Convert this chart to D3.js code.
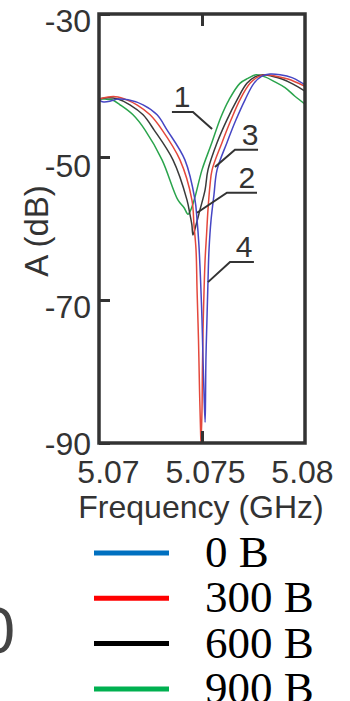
<!DOCTYPE html>
<html>
<head>
<meta charset="utf-8">
<script src="https://cdn.jsdelivr.net/npm/d3@7"></script>
<style>
  body { margin: 0; background: #fff; }
  svg { display: block; }
</style>
</head>
<body>
<svg id="chart"></svg>
<script>
// curves: [frequency GHz, A dB]
const curve0 = [ // 0 B
  [5.07000,-41.9],[5.07010,-42.2],[5.07024,-42.3],[5.07053,-42.2],[5.07092,-41.9],[5.07141,-42.0],
  [5.07214,-42.7],[5.07282,-44.1],[5.07330,-46.2],[5.07417,-50.4],[5.07466,-56.0],[5.07476,-58.8],
  [5.07485,-62.3],[5.07493,-67.2],[5.07500,-72.8],[5.07505,-78.4],[5.07510,-83.3],[5.07515,-87.1],
  [5.07517,-84.0],[5.07519,-78.4],[5.07524,-72.8],[5.07529,-67.5],[5.07534,-63.0],[5.07544,-58.8],
  [5.07558,-55.3],[5.07573,-51.8],[5.07621,-48.0],[5.07665,-44.8],[5.07709,-42.0],[5.07752,-39.7],
  [5.07791,-38.7],[5.07830,-38.4],[5.07879,-38.5],[5.07937,-38.9],[5.08000,-39.9]
];
const curve300 = [
  [5.07000,-41.9],[5.07044,-41.6],[5.07092,-41.6],[5.07126,-41.9],[5.07184,-42.7],[5.07248,-44.1],
  [5.07306,-46.2],[5.07393,-50.4],[5.07451,-56.0],[5.07461,-59.5],[5.07471,-63.0],[5.07476,-68.6],
  [5.07483,-75.6],[5.07488,-82.6],[5.07493,-88.2],[5.07495,-90.0],
  [5.07500,-85.4],[5.07502,-79.8],[5.07505,-74.2],[5.07510,-68.6],[5.07515,-64.4],[5.07522,-60.9],
  [5.07529,-57.4],[5.07539,-53.9],[5.07549,-51.8],[5.07597,-48.0],[5.07641,-44.8],[5.07684,-42.0],
  [5.07733,-39.7],[5.07772,-38.8],[5.07811,-38.5],[5.07859,-38.7],[5.07917,-39.1],[5.08000,-40.1]
];
const curve600 = [
  [5.07000,-41.9],[5.07044,-41.7],[5.07092,-41.9],[5.07150,-42.7],[5.07214,-44.1],[5.07267,-46.2],
  [5.07359,-50.4],[5.07427,-56.0],[5.07442,-58.1],[5.07451,-59.5],[5.07456,-60.9],
  [5.07471,-59.5],[5.07490,-57.4],[5.07515,-54.6],[5.07529,-51.8],[5.07573,-48.0],[5.07621,-44.8],
  [5.07670,-42.0],[5.07718,-39.7],[5.07757,-38.8],[5.07796,-38.5],[5.07840,-38.7],[5.07888,-39.1],
  [5.07942,-39.8],[5.08000,-40.8]
];
const curve900 = [
  [5.07000,-41.9],[5.07029,-41.9],[5.07063,-42.0],[5.07102,-42.7],[5.07165,-44.1],[5.07223,-46.2],
  [5.07306,-50.4],[5.07383,-56.0],[5.07413,-57.1],[5.07432,-58.0],
  [5.07447,-57.3],[5.07466,-55.6],[5.07500,-51.8],[5.07544,-48.3],[5.07592,-44.4],[5.07631,-42.0],
  [5.07684,-39.7],[5.07723,-39.0],[5.07762,-38.5],[5.07806,-38.8],[5.07854,-39.5],[5.07903,-40.3],
  [5.07951,-41.5],[5.08000,-42.6]
];

const seriesNames = ["0 B", "300 B", "600 B", "900 B"];
const lineColors = ["#4646c4", "#e4483c", "#3a3a3a", "#2aa44c"];
const legendColors = ["#0070c0", "#ff0000", "#000000", "#00b050"];

const xTicks = [5.07, 5.075, 5.08];
const xTickLabels = ["5.07", "5.075", "5.08"];
const yTicks = [-30, -50, -70, -90];
const yTickLabels = ["-30", "-50", "-70", "-90"];

// numbered callouts: label, text freq, underline [f1, f2] at dB, elbow freq, leader tip [f, dB]
const calloutLabels = ["1", "3", "2", "4"];
const calloutTextF = [5.07403, 5.07733, 5.07718, 5.07704];
const calloutLine = [[5.07354, 5.07456, -43.7], [5.07660, 5.07772, -49.0], [5.07621, 5.07767, -55.0], [5.07636, 5.07752, -64.7]];
const calloutElbow = [5.07456, 5.07660, 5.07621, 5.07636];
const calloutTip = [[5.07549, -46.1], [5.07563, -51.4], [5.07476, -57.8], [5.07529, -67.5]];

const width = 350, height = 701;
const plot = {left: 99, right: 305, top: 14, bottom: 443};
const sans = "'Liberation Sans', Arial, sans-serif";
const serif = "'Liberation Serif', 'Times New Roman', serif";
const ink = "#333";

const svg = d3.select("#chart")
    .attr("width", width)
    .attr("height", height)
    .attr("viewBox", [0, 0, width, height]);

const x = d3.scaleLinear()
    .domain([5.07, 5.08])
    .range([plot.left, plot.right]);

const y = d3.scaleLinear()
    .domain([-90, -30])
    .range([plot.bottom, plot.top]);

// curves
const line = d3.line()
    .x(d => x(d[0]))
    .y(d => y(d[1]))
    .curve(d3.curveCatmullRom.alpha(0.5));

const curves = [curve0, curve300, curve600, curve900];
// draw back to front so blue stays on top like the scan
svg.append("g")
  .selectAll("path")
  .data(curves.map((c, i) => ({c, i})).reverse())
  .join("path")
    .attr("d", d => line(d.c))
    .attr("fill", "none")
    .attr("stroke", d => lineColors[d.i])
    .attr("stroke-width", 1.5)
    .attr("stroke-linejoin", "round");

// axes
const yAxis = g => g
    .attr("transform", `translate(${x(5.07)},0)`)
    .call(d3.axisLeft(y).tickValues(yTicks).tickSize(-11).tickPadding(8)
        .tickFormat((d, i) => yTickLabels[i]))
    .call(g => g.select(".domain").remove())
    .call(g => g.selectAll(".tick line").attr("stroke", ink).attr("stroke-width", 3))
    .call(g => g.selectAll(".tick text")
        .attr("fill", ink)
        .attr("font-family", sans)
        .attr("font-size", 32)
        .attr("dy", (d, i) => [17, 19, 17, 11][i]));

const xAxis = g => g
    .attr("transform", `translate(0,${y(-90)})`)
    .call(d3.axisBottom(x).tickValues(xTicks).tickSize(-12).tickFormat((d, i) => xTickLabels[i]))
    .call(g => g.select(".domain").remove())
    .call(g => g.selectAll(".tick line").attr("stroke", ink).attr("stroke-width", 3)
        .filter(d => d !== 5.075).remove())
    .call(g => g.selectAll(".tick text")
        .attr("fill", ink)
        .attr("font-family", sans)
        .attr("font-size", 32)
        .attr("y", 40)
        .attr("dy", null)
        .attr("dx", (d, i) => [9, 3, -3][i]));

const xTop = g => g
    .attr("transform", `translate(0,${y(-30)})`)
    .call(d3.axisTop(x).tickValues([5.075]).tickSize(-12).tickFormat(""))
    .call(g => g.select(".domain").remove())
    .call(g => g.selectAll(".tick line").attr("stroke", ink).attr("stroke-width", 3));

svg.append("g").call(yAxis);
svg.append("g").call(xAxis);
svg.append("g").call(xTop);

// frame
svg.append("rect")
    .attr("x", x(5.07))
    .attr("y", y(-30))
    .attr("width", x(5.08) - x(5.07))
    .attr("height", y(-90) - y(-30))
    .attr("fill", "none")
    .attr("stroke", ink)
    .attr("stroke-width", 3.5);

// axis titles
svg.append("text")
    .attr("x", 201)
    .attr("y", 518)
    .attr("text-anchor", "middle")
    .attr("font-family", sans)
    .attr("font-size", 32)
    .attr("fill", ink)
    .text("Frequency (GHz)");

svg.append("text")
    .attr("transform", "translate(48,231) rotate(-90)")
    .attr("text-anchor", "middle")
    .attr("font-family", sans)
    .attr("font-size", 33)
    .attr("fill", ink)
    .text("A (dB)");

// callouts
const callouts = svg.append("g");
calloutLabels.forEach((lab, i) => {
    const [f1, f2, a] = calloutLine[i];
    const tip = calloutTip[i];
    const far = f1 === calloutElbow[i] ? f2 : f1;
    callouts.append("polyline")
        .attr("points", [
            [x(far), y(a)],
            [x(calloutElbow[i]), y(a)],
            [x(tip[0]), y(tip[1])]
        ].join(" "))
        .attr("fill", "none")
        .attr("stroke", ink)
        .attr("stroke-width", 2);
    callouts.append("text")
        .attr("x", x(calloutTextF[i]))
        .attr("y", y(a) - 5)
        .attr("text-anchor", "middle")
        .attr("font-family", sans)
        .attr("font-size", 30)
        .attr("fill", ink)
        .text(lab);
});

// legend
const legend = svg.append("g")
    .attr("transform", "translate(94,553)");

legend.selectAll("line")
  .data(seriesNames)
  .join("line")
    .attr("x1", 0)
    .attr("x2", 75)
    .attr("y1", (d, i) => i * 45.3)
    .attr("y2", (d, i) => i * 45.3)
    .attr("stroke", (d, i) => legendColors[i])
    .attr("stroke-width", 5);

legend.selectAll("text")
  .data(seriesNames)
  .join("text")
    .attr("x", 111)
    .attr("y", (d, i) => i * 45.3 + 14)
    .attr("font-family", serif)
    .attr("font-size", 45)
    .attr("fill", "#000")
    .text(d => d);

// edge of a neighbouring label, cut off at the left border
svg.append("text")
    .attr("x", 15)
    .attr("y", 653)
    .attr("text-anchor", "end")
    .attr("font-family", sans)
    .attr("font-size", 64)
    .attr("fill", "#444")
    .text("0");
</script>
</body>
</html>
